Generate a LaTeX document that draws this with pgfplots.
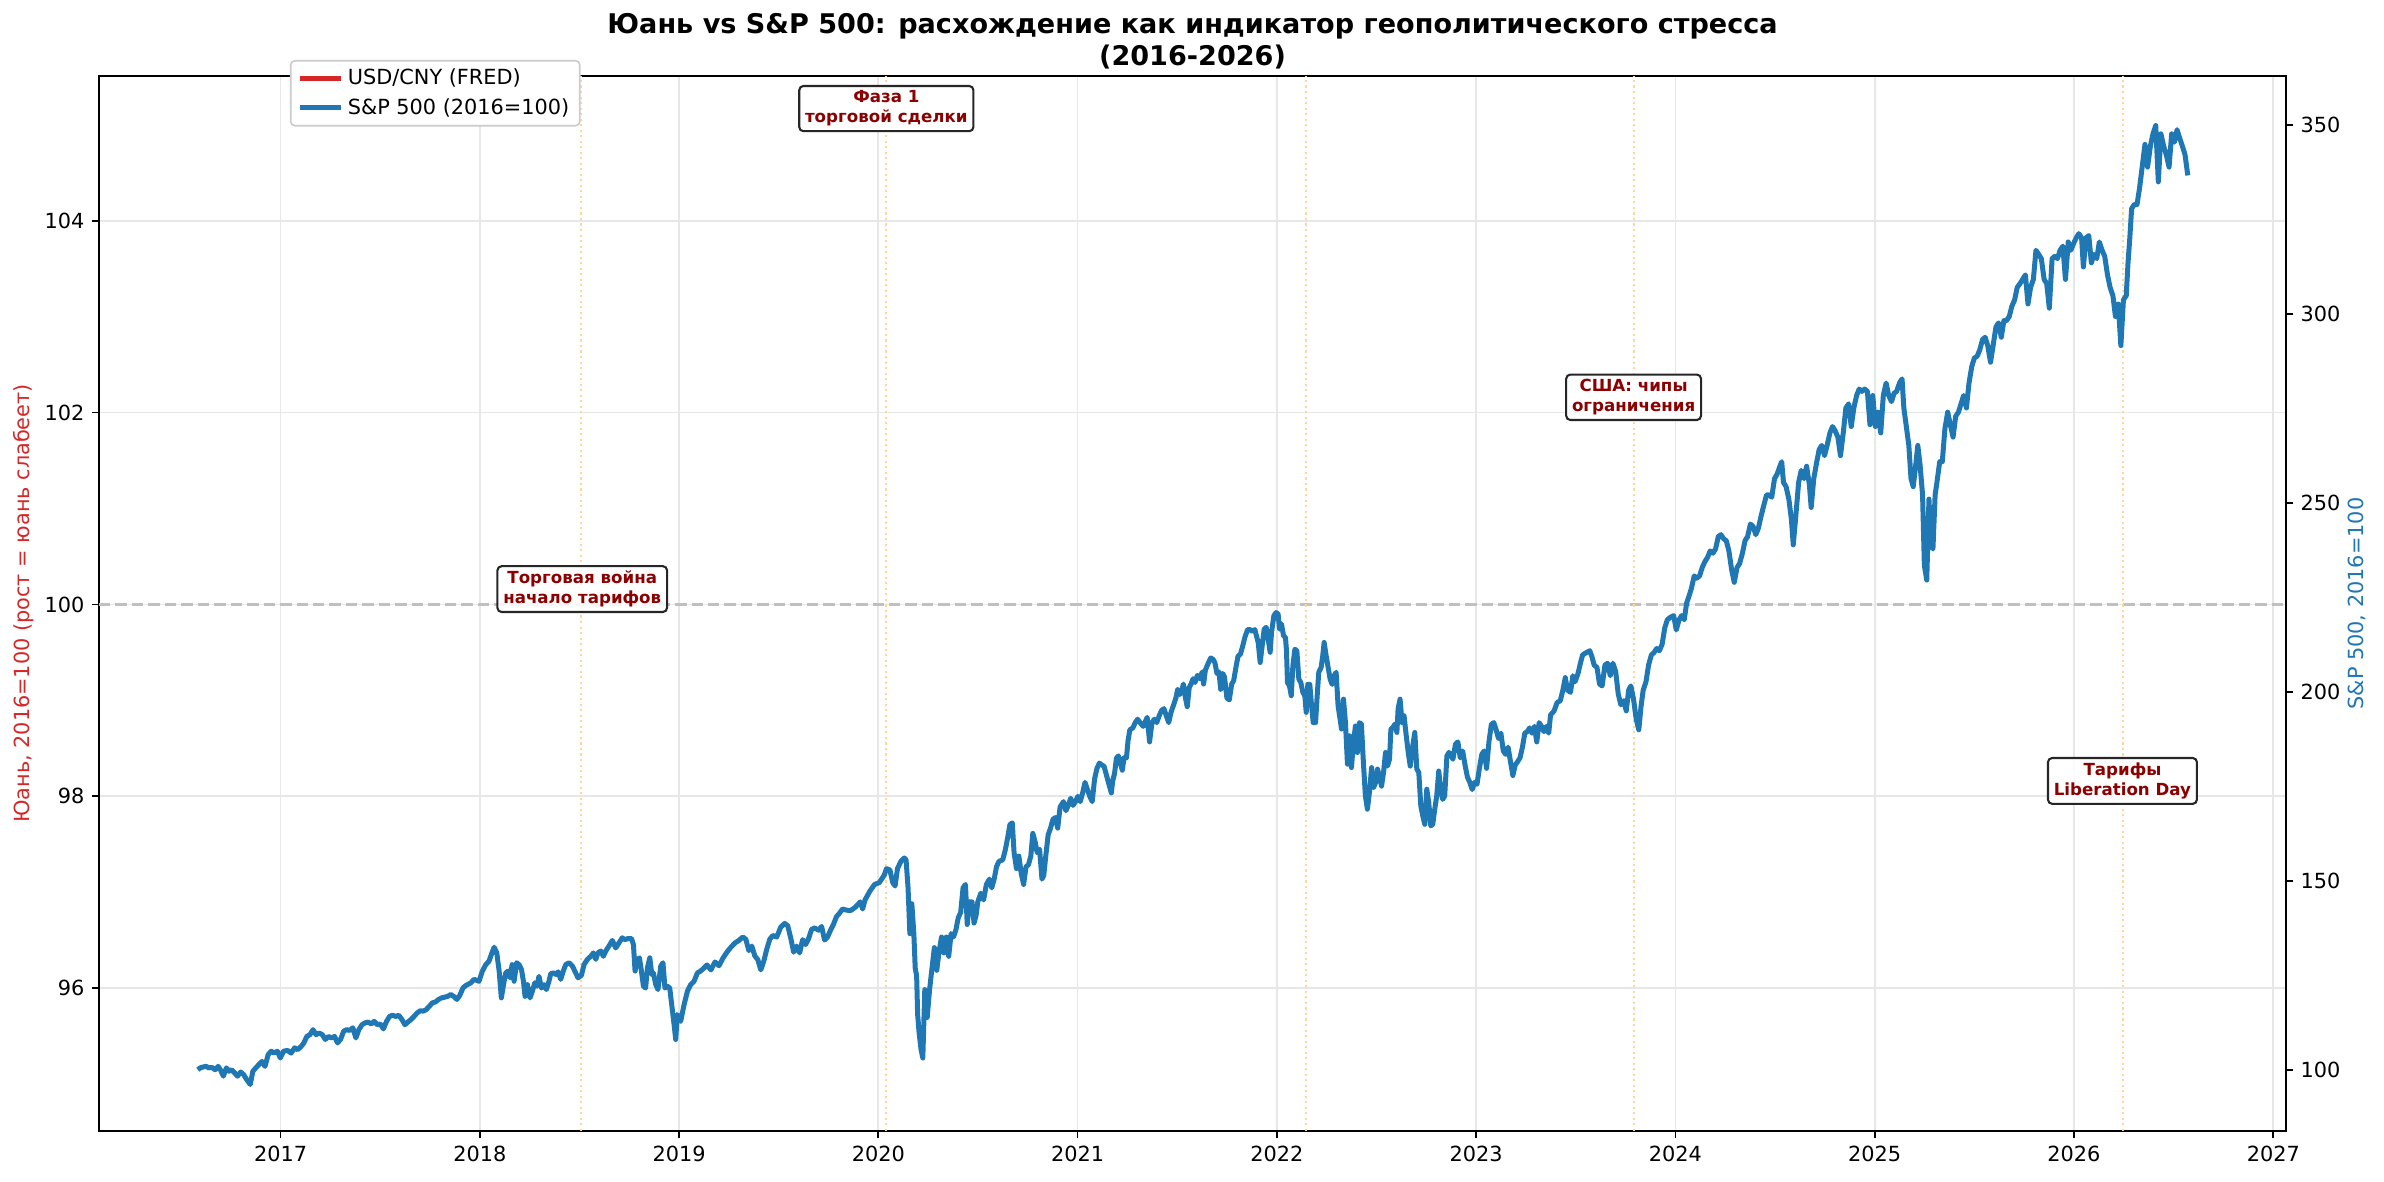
\documentclass[border=0pt]{standalone}
\usepackage{fontspec}
\setmainfont{DejaVu Sans}
\usepackage{pgfplots}
\usepackage{pgfplotstable}
\pgfplotsset{compat=1.18}
\definecolor{tabred}{HTML}{D62728}
\definecolor{tabblue}{HTML}{1F77B4}
\definecolor{darkred}{HTML}{8B0000}
\definecolor{gridc}{HTML}{E7E7E7}
\definecolor{vlinec}{HTML}{FFD699}
\definecolor{hlinec}{HTML}{C0C0C0}
\definecolor{legc}{HTML}{CCCCCC}

\pgfplotstableread{
x y
2016.585 100.1
2016.597 100.6
2016.610 100.8
2016.626 101.0
2016.641 100.6
2016.656 100.7
2016.672 100.1
2016.687 101.0
2016.700 99.9
2016.713 98.4
2016.728 100.6
2016.741 99.7
2016.754 100.1
2016.771 99.2
2016.784 98.4
2016.800 99.5
2016.815 98.8
2016.830 97.5
2016.848 96.2
2016.861 99.7
2016.876 100.6
2016.892 101.5
2016.907 102.3
2016.922 101.0
2016.938 104.1
2016.953 105.0
2016.969 104.5
2016.984 105.0
2016.999 103.2
2017.015 105.0
2017.035 105.2
2017.053 104.5
2017.071 105.9
2017.086 105.4
2017.104 106.3
2017.117 107.2
2017.132 108.9
2017.148 109.4
2017.163 110.7
2017.178 109.4
2017.194 109.8
2017.209 109.4
2017.225 108.1
2017.240 108.9
2017.255 108.5
2017.271 108.9
2017.286 107.2
2017.301 108.1
2017.317 110.3
2017.332 110.7
2017.347 110.5
2017.363 111.2
2017.378 108.5
2017.393 110.7
2017.409 112.0
2017.424 112.5
2017.440 112.7
2017.455 112.2
2017.470 112.9
2017.486 112.0
2017.501 112.2
2017.516 110.9
2017.532 112.9
2017.547 114.2
2017.562 114.5
2017.578 114.2
2017.593 114.5
2017.609 113.4
2017.624 112.0
2017.639 112.7
2017.655 113.4
2017.670 114.2
2017.685 115.1
2017.701 115.7
2017.716 115.6
2017.731 116.0
2017.747 116.9
2017.762 117.8
2017.777 118.0
2017.793 118.7
2017.808 119.1
2017.824 119.3
2017.839 119.5
2017.854 120.0
2017.869 119.5
2017.885 118.7
2017.900 119.8
2017.916 121.8
2017.931 122.4
2017.955 123.1
2017.971 124.0
2017.996 123.5
2018.013 126.2
2018.030 127.9
2018.046 128.8
2018.058 130.6
2018.072 132.5
2018.085 131.0
2018.097 126.2
2018.108 119.1
2018.122 123.5
2018.130 125.7
2018.142 126.2
2018.152 124.4
2018.162 127.9
2018.172 123.5
2018.185 128.4
2018.197 127.9
2018.209 126.6
2018.219 123.5
2018.227 119.5
2018.239 122.6
2018.252 119.1
2018.264 120.9
2018.276 123.1
2018.286 122.2
2018.297 124.8
2018.309 121.7
2018.322 122.6
2018.334 121.3
2018.347 123.5
2018.356 125.5
2018.369 125.7
2018.383 125.3
2018.393 126.0
2018.406 124.0
2018.419 126.2
2018.431 127.9
2018.448 128.4
2018.465 127.5
2018.481 125.7
2018.493 124.4
2018.510 125.1
2018.523 127.9
2018.540 129.3
2018.557 130.1
2018.570 131.0
2018.582 129.3
2018.593 131.0
2018.607 131.5
2018.620 130.1
2018.632 131.5
2018.648 132.8
2018.665 134.3
2018.682 132.3
2018.699 133.7
2018.715 135.0
2018.727 134.5
2018.744 134.8
2018.761 134.8
2018.771 133.2
2018.779 126.2
2018.791 129.3
2018.801 129.7
2018.811 126.2
2018.821 122.2
2018.832 121.7
2018.841 127.0
2018.853 129.7
2018.863 125.3
2018.871 125.7
2018.883 122.6
2018.894 121.3
2018.908 127.5
2018.919 128.4
2018.929 121.7
2018.941 122.2
2018.953 121.7
2018.963 117.3
2018.975 112.0
2018.983 108.1
2018.991 114.7
2019.008 112.9
2019.025 117.3
2019.042 120.9
2019.058 122.6
2019.075 123.5
2019.092 125.7
2019.108 126.2
2019.125 127.0
2019.140 127.8
2019.160 126.5
2019.180 128.6
2019.200 127.6
2019.220 129.6
2019.240 131.2
2019.260 132.5
2019.280 133.6
2019.300 134.3
2019.320 135.2
2019.335 134.6
2019.350 131.6
2019.365 132.8
2019.380 130.2
2019.395 129.2
2019.410 126.5
2019.425 128.8
2019.440 132.0
2019.455 134.6
2019.470 135.6
2019.490 135.2
2019.510 137.8
2019.530 138.8
2019.545 138.2
2019.560 135.0
2019.575 131.2
2019.590 132.8
2019.605 131.0
2019.620 134.5
2019.635 133.2
2019.650 134.8
2019.665 137.2
2019.680 137.6
2019.700 137.0
2019.715 138.0
2019.730 134.4
2019.745 135.2
2019.760 137.0
2019.775 138.6
2019.790 140.6
2019.805 141.5
2019.820 142.6
2019.840 142.3
2019.861 142.2
2019.885 143.1
2019.909 144.5
2019.921 142.6
2019.933 145.0
2019.957 147.3
2019.981 149.1
2020.005 149.6
2020.029 151.5
2020.041 153.3
2020.058 152.9
2020.072 149.6
2020.084 148.7
2020.096 153.3
2020.113 155.2
2020.130 156.1
2020.139 155.6
2020.149 148.2
2020.158 136.1
2020.168 144.0
2020.178 136.1
2020.185 126.9
2020.192 125.0
2020.197 114.8
2020.204 110.1
2020.214 105.5
2020.223 103.2
2020.233 121.3
2020.245 113.9
2020.257 121.3
2020.269 126.9
2020.281 132.4
2020.293 126.4
2020.305 131.5
2020.317 135.2
2020.329 131.0
2020.341 135.2
2020.353 130.1
2020.365 136.1
2020.377 135.2
2020.389 137.1
2020.401 140.3
2020.413 141.7
2020.425 148.2
2020.437 149.1
2020.446 138.5
2020.456 144.5
2020.470 144.5
2020.480 138.9
2020.490 140.8
2020.499 144.5
2020.514 146.8
2020.528 145.0
2020.542 149.1
2020.557 150.5
2020.569 148.2
2020.581 150.5
2020.593 153.8
2020.605 155.2
2020.624 155.6
2020.636 158.0
2020.648 161.2
2020.660 164.9
2020.672 165.4
2020.681 157.5
2020.693 153.3
2020.705 156.6
2020.717 152.0
2020.729 149.1
2020.741 153.8
2020.753 154.3
2020.765 156.6
2020.775 162.6
2020.787 160.3
2020.797 157.5
2020.809 158.4
2020.821 150.5
2020.830 151.5
2020.840 156.6
2020.852 162.2
2020.864 164.0
2020.876 166.3
2020.888 166.8
2020.900 164.0
2020.912 169.6
2020.929 171.0
2020.941 168.6
2020.953 170.0
2020.965 171.9
2020.977 170.0
2020.989 171.0
2021.001 172.4
2021.013 171.0
2021.025 173.3
2021.037 176.1
2021.049 174.2
2021.061 172.4
2021.073 171.0
2021.085 177.0
2021.097 179.8
2021.109 181.2
2021.121 180.7
2021.133 180.3
2021.145 177.9
2021.157 175.6
2021.169 173.3
2021.176 176.5
2021.185 178.4
2021.195 182.6
2021.205 183.1
2021.217 180.7
2021.224 179.3
2021.233 182.6
2021.245 182.6
2021.253 187.2
2021.262 190.0
2021.277 190.5
2021.289 191.9
2021.301 192.8
2021.313 191.9
2021.329 190.9
2021.349 193.3
2021.361 186.8
2021.373 191.9
2021.385 192.8
2021.397 191.9
2021.409 193.7
2021.421 195.1
2021.433 195.6
2021.445 193.7
2021.457 191.9
2021.469 194.7
2021.481 196.5
2021.493 198.4
2021.502 200.7
2021.512 199.3
2021.521 200.2
2021.531 202.1
2021.541 198.4
2021.550 196.1
2021.560 201.2
2021.569 202.1
2021.579 203.5
2021.589 202.5
2021.601 204.4
2021.613 203.5
2021.625 205.3
2021.632 202.1
2021.641 205.8
2021.656 207.7
2021.668 209.0
2021.680 208.6
2021.689 207.7
2021.699 204.9
2021.709 205.3
2021.718 200.7
2021.728 204.9
2021.737 204.0
2021.749 198.4
2021.761 197.9
2021.773 202.1
2021.783 203.0
2021.795 206.7
2021.805 209.5
2021.817 210.0
2021.829 212.3
2021.840 214.6
2021.853 216.5
2021.865 216.5
2021.877 216.0
2021.889 216.5
2021.906 213.1
2021.916 207.8
2021.926 212.2
2021.936 216.6
2021.946 217.1
2021.956 214.0
2021.966 210.5
2021.973 215.8
2021.985 220.2
2021.996 221.0
2022.006 220.6
2022.013 216.6
2022.023 218.0
2022.033 214.9
2022.043 214.4
2022.048 210.9
2022.053 202.5
2022.063 201.6
2022.072 199.0
2022.080 206.9
2022.090 211.3
2022.100 210.9
2022.110 203.4
2022.120 202.5
2022.130 199.9
2022.140 199.0
2022.147 194.6
2022.155 202.0
2022.165 202.0
2022.174 196.3
2022.182 191.9
2022.194 191.9
2022.202 199.0
2022.210 205.2
2022.222 206.5
2022.230 209.6
2022.237 213.1
2022.247 209.6
2022.257 206.5
2022.267 203.4
2022.277 202.0
2022.287 204.3
2022.297 205.2
2022.307 196.3
2022.317 192.8
2022.324 190.2
2022.334 198.1
2022.344 191.9
2022.354 180.9
2022.364 188.4
2022.374 180.0
2022.384 186.6
2022.394 191.0
2022.404 184.0
2022.414 191.9
2022.424 191.5
2022.434 181.3
2022.444 172.5
2022.454 169.0
2022.465 173.8
2022.475 180.0
2022.485 174.7
2022.495 176.0
2022.505 179.6
2022.515 177.4
2022.525 175.1
2022.535 178.7
2022.545 184.0
2022.555 180.4
2022.565 182.2
2022.572 190.2
2022.582 190.6
2022.592 191.5
2022.602 189.3
2022.608 195.5
2022.618 198.1
2022.628 191.9
2022.638 193.7
2022.649 188.4
2022.659 184.0
2022.669 180.4
2022.679 184.9
2022.692 189.3
2022.702 179.6
2022.712 178.7
2022.722 169.9
2022.732 167.2
2022.742 165.0
2022.752 174.3
2022.762 170.7
2022.772 164.6
2022.782 165.0
2022.792 169.0
2022.802 172.5
2022.812 179.1
2022.822 174.3
2022.832 171.6
2022.842 172.5
2022.853 183.1
2022.863 184.0
2022.873 183.5
2022.883 182.2
2022.896 186.2
2022.908 186.8
2022.920 182.6
2022.932 184.4
2022.944 180.7
2022.956 177.5
2022.968 176.1
2022.980 174.2
2022.992 176.1
2023.004 175.6
2023.016 179.8
2023.028 183.5
2023.040 184.4
2023.052 179.8
2023.064 186.8
2023.076 191.4
2023.088 191.9
2023.100 190.0
2023.112 187.7
2023.124 189.1
2023.136 184.4
2023.148 183.5
2023.160 185.4
2023.172 181.6
2023.184 177.9
2023.196 180.7
2023.208 181.6
2023.220 182.6
2023.232 185.4
2023.244 189.1
2023.256 189.5
2023.268 190.5
2023.280 189.1
2023.292 190.9
2023.304 186.8
2023.316 191.9
2023.328 190.9
2023.340 189.5
2023.352 190.9
2023.364 189.1
2023.373 193.9
2023.391 195.0
2023.406 197.2
2023.422 197.7
2023.435 200.5
2023.447 203.8
2023.458 200.5
2023.473 199.9
2023.485 204.3
2023.496 202.7
2023.511 204.9
2023.523 207.6
2023.534 209.8
2023.552 210.4
2023.570 210.9
2023.581 209.3
2023.592 207.1
2023.606 206.5
2023.619 202.1
2023.632 201.6
2023.646 207.1
2023.659 207.6
2023.673 204.3
2023.686 207.6
2023.700 205.4
2023.713 199.4
2023.726 196.6
2023.740 197.7
2023.753 195.0
2023.765 200.5
2023.776 201.6
2023.789 198.3
2023.803 192.8
2023.816 190.0
2023.827 196.1
2023.838 200.5
2023.852 202.7
2023.865 207.1
2023.879 209.8
2023.892 210.4
2023.906 211.5
2023.919 210.9
2023.933 212.6
2023.946 216.9
2023.959 219.1
2023.973 219.7
2023.991 220.2
2024.004 216.4
2024.018 219.1
2024.031 220.2
2024.044 219.1
2024.056 223.5
2024.067 225.2
2024.080 227.4
2024.094 230.7
2024.107 230.1
2024.121 230.7
2024.134 232.9
2024.148 234.5
2024.161 235.6
2024.174 237.3
2024.188 236.7
2024.201 237.8
2024.215 241.1
2024.228 241.6
2024.242 240.5
2024.255 240.0
2024.268 237.3
2024.282 232.3
2024.295 229.0
2024.309 232.9
2024.322 234.0
2024.336 236.7
2024.349 240.0
2024.362 241.1
2024.376 244.4
2024.389 243.8
2024.403 241.6
2024.416 243.3
2024.430 246.6
2024.443 249.3
2024.457 252.1
2024.470 252.1
2024.483 251.5
2024.497 256.4
2024.510 257.6
2024.524 259.7
2024.533 260.9
2024.542 255.4
2024.555 254.3
2024.569 251.0
2024.582 245.5
2024.591 238.9
2024.604 246.6
2024.618 255.4
2024.631 258.6
2024.645 256.4
2024.658 259.7
2024.672 254.8
2024.681 248.8
2024.694 256.4
2024.707 260.3
2024.721 264.1
2024.734 265.2
2024.748 262.5
2024.761 265.2
2024.775 268.5
2024.788 270.2
2024.801 269.1
2024.815 267.4
2024.828 262.5
2024.842 268.5
2024.855 275.1
2024.869 276.2
2024.882 270.2
2024.895 275.1
2024.909 278.4
2024.922 280.1
2024.936 279.5
2024.949 280.1
2024.963 279.5
2024.976 270.7
2024.990 278.4
2025.003 270.2
2025.016 274.0
2025.030 268.5
2025.043 278.4
2025.057 281.7
2025.070 278.4
2025.084 276.8
2025.097 279.0
2025.110 279.5
2025.124 281.7
2025.137 282.8
2025.146 275.1
2025.160 269.6
2025.171 265.2
2025.182 256.4
2025.193 254.3
2025.205 259.7
2025.216 265.2
2025.227 260.3
2025.240 252.1
2025.249 233.4
2025.261 229.6
2025.272 251.0
2025.283 238.9
2025.292 237.8
2025.303 252.1
2025.312 255.4
2025.326 260.9
2025.339 260.9
2025.352 269.6
2025.366 274.0
2025.379 270.7
2025.393 267.4
2025.406 272.9
2025.420 274.0
2025.433 276.2
2025.446 278.4
2025.460 275.1
2025.473 281.7
2025.487 286.1
2025.500 288.3
2025.514 288.8
2025.527 290.5
2025.541 293.2
2025.554 293.8
2025.567 291.6
2025.581 287.2
2025.594 291.6
2025.608 296.5
2025.621 297.6
2025.635 293.8
2025.648 298.2
2025.661 298.2
2025.675 299.3
2025.688 302.0
2025.702 303.7
2025.715 307.0
2025.729 308.0
2025.742 309.1
2025.756 310.3
2025.769 302.6
2025.782 307.0
2025.796 309.1
2025.809 316.8
2025.823 315.7
2025.836 314.6
2025.850 309.1
2025.863 308.0
2025.876 301.5
2025.890 314.6
2025.903 315.2
2025.917 314.6
2025.930 316.8
2025.944 317.9
2025.957 309.1
2025.971 319.0
2025.984 316.8
2025.997 318.5
2026.011 320.1
2026.024 321.2
2026.038 320.1
2026.047 312.4
2026.060 320.1
2026.074 320.7
2026.087 313.5
2026.100 315.7
2026.114 314.6
2026.127 319.0
2026.141 316.8
2026.154 315.2
2026.168 310.3
2026.181 307.0
2026.195 304.8
2026.208 299.3
2026.222 302.6
2026.235 291.6
2026.248 303.7
2026.262 304.8
2026.271 313.5
2026.280 320.1
2026.289 327.8
2026.302 328.9
2026.316 328.9
2026.329 333.3
2026.342 338.8
2026.356 344.8
2026.369 338.8
2026.383 344.3
2026.396 347.6
2026.410 349.8
2026.423 334.9
2026.436 347.6
2026.450 344.3
2026.463 342.1
2026.477 338.8
2026.490 347.6
2026.504 345.4
2026.517 348.7
2026.530 346.5
2026.544 344.3
2026.557 342.1
2026.571 336.6
}\spdata

\pgfplotsset{
  every axis/.append style={
    axis line style={line width=1pt},
    tick style={line width=0.8pt, black},
    major tick length=3.5pt,
    tick align=outside,
    ticklabel style={font=\fontsize{10}{12}\selectfont},
    /pgf/number format/assume math mode=true,
    /pgf/number format/1000 sep={},
  }
}

\begin{document}
\begin{tikzpicture}
\path[use as bounding box] (0,0) rectangle (1144.32pt,566.88pt);
\begin{axis}[
  at={(47.52pt,24pt)}, anchor=south west,
  width=1049.76pt, height=506.4pt, scale only axis,
  xmin=2016.089, xmax=2027.064, ymin=94.51, ymax=105.51,
  xtick={2017,2018,...,2027}, ytick={96,98,100,102,104},
  xtick pos=left, ytick pos=left,
  grid=major, grid style={gridc, line width=0.8pt},
  clip=false,
  legend style={at={(rel axis cs:0.0873,1.0152)}, anchor=north west,
    draw=legc, line width=0.8pt, rounded corners=2pt, fill=white,
    font=\fontsize{10}{12}\selectfont, inner xsep=3pt, inner ysep=2pt,
    row sep=1pt},
  legend cell align=left,
  legend image code/.code={\draw[#1] (0pt,0pt) -- (20pt,0pt);},
]
\addlegendimage{tabred, line width=2.4pt}
\addlegendentry{USD/CNY (FRED)}
\addlegendimage{tabblue, line width=2.4pt}
\addlegendentry{S\&P 500 (2016=100)}
\addplot[hlinec, line width=1.5pt, dash pattern=on 5.5pt off 2.4pt, forget plot] coordinates {(2016.089,100) (2027.064,100)};
\addplot[vlinec, line width=1pt, dash pattern=on 1pt off 1.65pt, forget plot] coordinates {(2018.51,94.51) (2018.51,105.51)};
\addplot[vlinec, line width=1pt, dash pattern=on 1pt off 1.65pt, forget plot] coordinates {(2020.04,94.51) (2020.04,105.51)};
\addplot[vlinec, line width=1pt, dash pattern=on 1pt off 1.65pt, forget plot] coordinates {(2022.148,94.51) (2022.148,105.51)};
\addplot[vlinec, line width=1pt, dash pattern=on 1pt off 1.65pt, forget plot] coordinates {(2023.79,94.51) (2023.79,105.51)};
\addplot[vlinec, line width=1pt, dash pattern=on 1pt off 1.65pt, forget plot] coordinates {(2026.245,94.51) (2026.245,105.51)};
\tikzset{ann/.style={draw=black!85, line width=1pt, fill=white, fill opacity=0.85, text opacity=1, rounded corners=2pt, inner xsep=2.8pt, inner ysep=2.3pt, align=center, text=darkred, font=\bfseries\fontsize{8}{9.6}\selectfont}}
\node[ann] at (axis cs:2018.514,100.16) {Торговая война\\начало тарифов};
\node[ann] at (axis cs:2020.04,105.17) {Фаза 1\\торговой сделки};
\node[ann] at (axis cs:2023.79,102.16) {США: чипы\\ограничения};
\node[ann] at (axis cs:2026.243,98.16) {Тарифы\\Liberation Day};
\end{axis}
\begin{axis}[
  at={(47.52pt,24pt)}, anchor=south west,
  width=1049.76pt, height=506.4pt, scale only axis,
  xmin=2016.089, xmax=2027.064, ymin=83.9, ymax=362.9,
  axis x line=none, axis y line*=right,
  ytick={100,150,...,350},
]
\addplot[tabblue, line width=2.4pt, line join=round, no marks] table[x=x,y=y] {\spdata};
\end{axis}
\node[rotate=90, text=tabred, font=\fontsize{10}{12}\selectfont] at (11.5pt,277.2pt) {Юань, 2016=100 (рост = юань слабеет)};
\node[rotate=90, text=tabblue, font=\fontsize{10}{12}\selectfont] at (1131.3pt,277.2pt) {S\&P 500, 2016=100};
\node[font=\bfseries\fontsize{13}{15}\selectfont] at (572.4pt,554.2pt) {Юань vs S\&P 500: расхождение как индикатор геополитического стресса};
\node[font=\bfseries\fontsize{13}{15}\selectfont] at (572.4pt,539.6pt) {(2016-2026)};
\end{tikzpicture}
\end{document}
